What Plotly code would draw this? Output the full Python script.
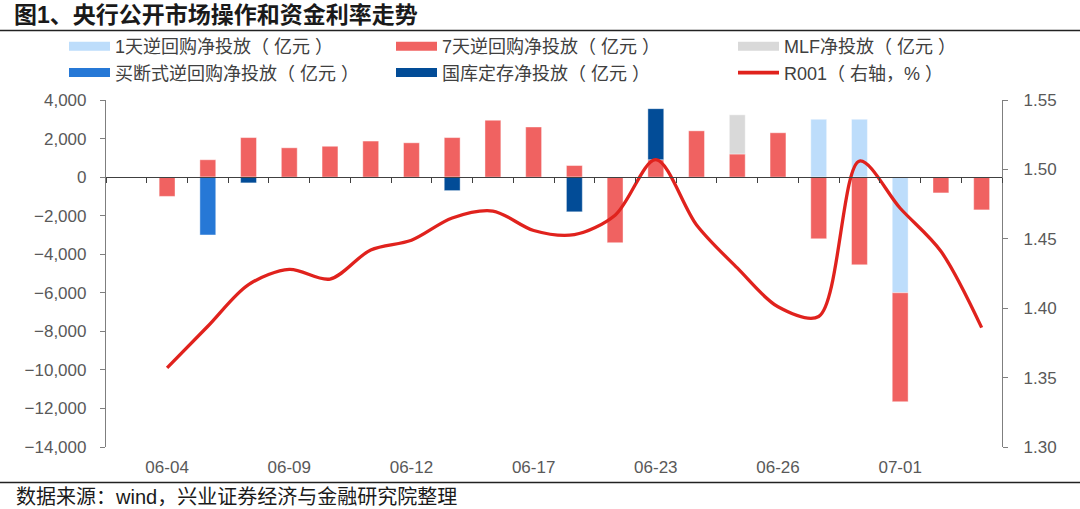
import plotly.graph_objects as go

# ---------------- data ----------------
dates = ["06-03", "06-04", "06-05", "06-06", "06-09", "06-10", "06-11", "06-12",
         "06-13", "06-16", "06-17", "06-18", "06-19", "06-23", "06-24", "06-25",
         "06-26", "06-27", "06-30", "07-01", "07-02", "07-03"]
label_dates = ["06-04", "06-09", "06-12", "06-17", "06-23", "06-26", "07-01"]

rr1d = [None, None, None, None, None, None, None, None, None, None, None,
        None, None, None, None, None, None, 3000, 3000, -6000, None, None]
rr7d = [None, -1000, 900, 2050, 1520, 1600, 1870, 1780, 2050, 2950, 2600,
        600, -3400, 900, 2400, 1200, 2300, -3200, -4550, -5650, -820, -1700]
mlf = [None, None, None, None, None, None, None, None, None, None, None,
       None, None, None, None, 2030, None, None, None, None, None, None]
outright = [None, None, -3000, None, None, None, None, None, None, None, None,
            None, None, None, None, None, None, None, None, None, None, None]
treasury = [None, None, None, -300, None, None, None, None, -700, None, None,
            -1800, None, 2650, None, None, None, None, None, None, None, None]
r001 = [None, 1.357, 1.387, 1.417, 1.428, 1.421, 1.442, 1.449, 1.465, 1.470,
        1.456, 1.453, 1.467, 1.507, 1.460, 1.429, 1.401, 1.394, 1.506, 1.472,
        1.441, 1.386]

names = ["1天逆回购净投放（ 亿元 ）", "7天逆回购净投放（ 亿元 ）", "MLF净投放（ 亿元 ）",
         "买断式逆回购净投放（ 亿元 ）", "国库定存净投放（ 亿元 ）", "R001（ 右轴，% ）"]
colors = ["#BDDDFB", "#F06261", "#D9D9D9", "#2678D6", "#024C97", "#E0221D"]
# legend column of each series (3 columns x 2 rows, as in the source)
legend_ids = ["legend", "legend2", "legend3", "legend", "legend2", "legend3"]

# ---------------- figure ----------------
FONT = "Liberation Sans, Noto Sans CJK SC, sans-serif"
xi = list(range(len(dates)))

fig = go.Figure()
for vals, name, col in zip([rr1d, rr7d, mlf, outright, treasury], names[:5], colors[:5]):
    fig.add_trace(go.Bar(x=xi, y=vals, name=name,
                         marker=dict(color=col, line=dict(width=0.6, color="rgba(255,255,255,0.7)")),
                         showlegend=False))

fig.add_trace(go.Scatter(x=xi, y=r001, name=names[5], mode="lines", xaxis="x2", yaxis="y2",
                         line=dict(color=colors[5], width=3.3, shape="spline", smoothing=0.9),
                         connectgaps=False, showlegend=False))

# legend entries (wide swatches), ordered column by column
for i in [0, 3, 1, 4, 2, 5]:
    lw = 3.8 if i == 5 else 9
    fig.add_trace(go.Scatter(x=[None], y=[None], mode="lines", name=names[i],
                             legend=legend_ids[i], line=dict(color=colors[i], width=lw)))

ymin, ymax = -14000, 4000
zero_pos = (0 - ymin) / (ymax - ymin)
xr = [-0.5, len(dates) - 0.5]

W, H = 1080, 509
ML, MR, MT, MB = 106, 78, 100, 62
PW, PH = W - ML - MR, H - MT - MB


def px_x(px):
    return (px - ML) / PW


def px_y(py):
    return (H - MB - py) / PH


def leg(xpx):
    return dict(orientation="v", x=px_x(xpx), y=px_y(28), xanchor="left", yanchor="top",
                itemwidth=41, font=dict(size=18, color="#404040"), bgcolor="rgba(0,0,0,0)",
                traceorder="normal", tracegroupgap=0)


fig.update_layout(
    width=W, height=H,
    margin=dict(l=ML, r=MR, t=MT, b=MB),
    paper_bgcolor="white", plot_bgcolor="white",
    font=dict(family=FONT, size=17, color="#595959"),
    barmode="relative", bargap=0.61,
    showlegend=True,
    legend=leg(64), legend2=leg(391), legend3=leg(733),
    xaxis=dict(range=xr, tickmode="array", tickvals=[dates.index(d) for d in label_dates],
               ticktext=label_dates, ticks="", showline=False, showgrid=False, zeroline=False,
               ticklabelstandoff=8, tickfont=dict(size=17, color="#595959")),
    xaxis2=dict(range=xr, overlaying="x", matches="x", anchor="free", position=zero_pos,
                showticklabels=False, showline=True, linecolor="#404040", linewidth=1.2,
                ticks="outside", tickmode="linear", tick0=-0.5, dtick=1, ticklen=5,
                tickcolor="#404040", tickwidth=1, showgrid=False, zeroline=False),
    yaxis=dict(range=[ymin, ymax], tickmode="linear", tick0=ymin, dtick=2000, tickformat=",",
               showline=True, linecolor="#7f7f7f", linewidth=1.2, ticks="outside", ticklen=5,
               tickcolor="#7f7f7f", showgrid=False, zeroline=False, ticklabelstandoff=10,
               tickfont=dict(size=17, color="#595959")),
    yaxis2=dict(range=[1.30, 1.55], overlaying="y", side="right", anchor="x", tickmode="linear",
                tick0=1.30, dtick=0.05, tickformat=".2f", showline=True, linecolor="#7f7f7f",
                linewidth=1.2, ticks="outside", ticklen=5, tickcolor="#7f7f7f", showgrid=False,
                zeroline=False, ticklabelstandoff=12, tickfont=dict(size=17, color="#595959")),
    title=dict(text="<b>图1、央行公开市场操作和资金利率走势</b>", x=14 / W, xanchor="left",
               xref="container", y=1 - 15 / H, yref="container", yanchor="middle",
               font=dict(size=23, color="#1a1a1a", family=FONT)),
)

fig.add_shape(type="line", xref="paper", yref="paper", x0=px_x(0), x1=px_x(W), y0=px_y(30.5), y1=px_y(30.5),
              line=dict(color="#222222", width=1.6))
fig.add_shape(type="line", xref="paper", yref="paper", x0=px_x(0), x1=px_x(W), y0=px_y(482.5), y1=px_y(482.5),
              line=dict(color="#222222", width=1.6))
fig.add_annotation(text="数据来源：wind，兴业证券经济与金融研究院整理", xref="paper", yref="paper",
                   x=px_x(14), y=px_y(497), xanchor="left", yanchor="middle", showarrow=False,
                   font=dict(size=20, color="#1a1a1a", family=FONT))

fig.write_html("out.html")
